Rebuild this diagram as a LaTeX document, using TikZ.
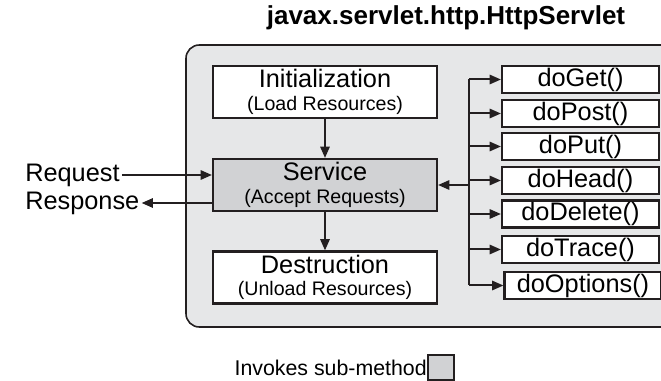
\documentclass[tikz,border=0pt]{standalone}
\usepackage{fontspec}
\setmainfont{Liberation Sans}
\usetikzlibrary{arrows.meta,positioning}
\definecolor{ink}{RGB}{35,31,32}
\definecolor{panelgray}{RGB}{230,231,232}
\definecolor{servicegray}{RGB}{209,210,212}

\tikzset{
  stage/.style={draw=ink,line width=1.6pt,fill=white,minimum width=168pt,
    minimum height=39pt,inner sep=0pt,align=center,font=\fontsize{19}{21}\selectfont},
  method/.style={draw=ink,line width=1.6pt,fill=white,minimum width=117.75pt,
    minimum height=20.25pt,inner sep=0pt,font=\fontsize{19}{21}\selectfont},
  side/.style={inner sep=1.5pt,font=\fontsize{19}{21}\selectfont},
  link/.style={ink,line width=1.5pt,->},
}
% second, smaller line of a stage box
\newcommand{\sublabel}[1]{\\[-4pt]{\fontsize{14.7}{16}\selectfont #1}}

\begin{document}
\begin{tikzpicture}[x=.75pt,y=-.75pt,>={Triangle[length=8.5pt,width=7pt]}]
\clip (0,0) rectangle (661,381);
\node[font=\bfseries\fontsize{19.5}{22}\selectfont] (title) at (446,18) {javax.servlet.http.HttpServlet};
\draw[ink,line width=1.2pt,fill=panelgray,rounded corners=10pt] (186,45) rectangle (700,327);

% life cycle
\node[stage] (init) at (325,92) {Initialization\sublabel{(Load Resources)}};
\node[stage,fill=servicegray] (service) at (325,185) {Service\sublabel{(Accept Requests)}};
\node[stage] (destroy) at (325,277.5) {Destruction\sublabel{(Unload Resources)}};
\draw[link] (init) -- (service);
\draw[link] (service) -- (destroy);

% request in, response out
\node[side,anchor=west] (request) at (23,175) {Request};
\node[side,anchor=west] (response) at (23,203) {Response};
\draw[link] (request.east) -- (service.west |- request.east);
\draw[link] (service.west |- response.east) -- (response.east);

% sub-methods
\foreach \m/\y in {doGet/79.5,doPost/113.5,doPut/146.5,doHead/180.5,doDelete/214,doTrace/249.5}
  \node[method] (\m) at (580.5,\y) {\m()};
\node[method] (doOptions) at (583,285.5) {doOptions()};
\coordinate (hub) at (469,185);
\draw[ink,line width=1.5pt] (doGet.west -| hub) -- (doOptions.west -| hub);
\foreach \m in {doGet,doPost,doPut,doHead,doDelete,doTrace,doOptions}
  \draw[link] (\m.west -| hub) -- (\m.west);
\draw[link] (hub) -- (service.east);

% legend
\node[font=\fontsize{16}{18}\selectfont,anchor=east,inner sep=0pt] (legend) at (427,368) {Invokes sub-method};
\node[draw=ink,fill=servicegray,line width=1.2pt,minimum width=19.5pt,minimum height=18.75pt,inner sep=0pt] (key) at (441,367.5) {};
\end{tikzpicture}
\end{document}
